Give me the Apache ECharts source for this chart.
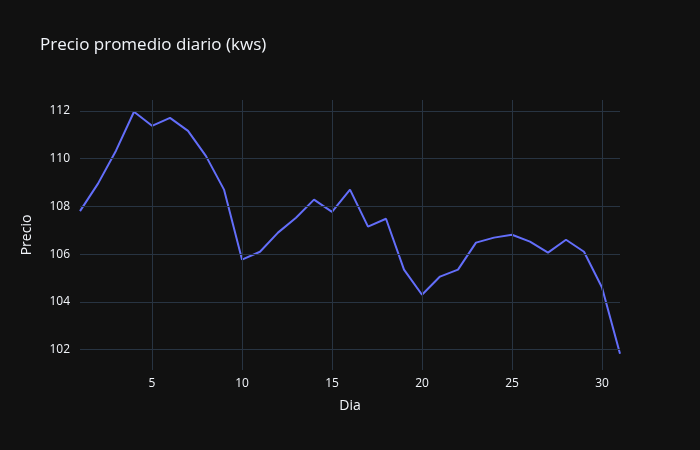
<!DOCTYPE html>
<html>
<head>
<meta charset="utf-8">
<script src="https://cdn.jsdelivr.net/npm/echarts@6/dist/echarts.min.js"></script>
<style>html,body{margin:0;background:#111111}#chart{width:700px;height:450px}</style>
</head>
<body>
<div id="chart"></div>
<script>
const dias = [1,2,3,4,5,6,7,8,9,10,11,12,13,14,15,16,17,18,19,20,21,22,23,24,25,26,27,28,29,30,31]
const precio = [107.8,108.95,110.33,111.96,111.37,111.7,111.16,110.1,108.7,105.77,106.1,106.9,107.52,108.28,107.77,108.7,107.15,107.48,105.35,104.3,105.06,105.35,106.48,106.69,106.81,106.52,106.06,106.6,106.1,104.6,101.83]
const xTicks = [5,10,15,20,25,30]
const yTicks = [102,104,106,108,110,112]

let myChart = echarts.init(document.getElementById('chart'), null, { renderer: 'canvas' })

const gridColor = '#283442'
const textColor = '#f2f5fa'

myChart.setOption({
    backgroundColor: '#111111',
    animation: false,
    title: {
        text: 'Precio promedio diario (kws)',
        left: 35, top: 32,
        textStyle: { color: textColor, fontSize: 17, fontWeight: 'normal', fontFamily: 'Open Sans' }
    },
    grid: { left: 80, right: 80, top: 100, bottom: 80 },
    xAxis: {
        type: 'value', min: 1, max: 31,
        name: 'Dia', nameLocation: 'middle', nameGap: 29,
        nameTextStyle: { color: textColor, fontSize: 14, fontFamily: 'Open Sans' },
        axisLine: { show: false }, axisTick: { show: false }, splitLine: { show: false },
        axisLabel: { customValues: xTicks, color: textColor, fontSize: 12, fontFamily: 'Open Sans' }
    },
    yAxis: {
        type: 'value', min: 101.15, max: 112.45,
        name: 'Precio', nameLocation: 'middle', nameGap: 46, nameRotate: 90,
        nameTextStyle: { color: textColor, fontSize: 14, fontFamily: 'Open Sans' },
        axisLine: { show: false }, axisTick: { show: false }, splitLine: { show: false },
        axisLabel: { customValues: yTicks, color: textColor, fontSize: 12, fontFamily: 'Open Sans', margin: 10 }
    },
    series: [{
        type: 'line',
        data: dias.map((d, i) => [d, precio[i]]),
        showSymbol: false,
        lineStyle: { color: '#636efa', width: 2 },
        itemStyle: { color: '#636efa' },
        z: 3,
        markLine: {
            silent: true, symbol: 'none', label: { show: false }, animation: false,
            lineStyle: { color: gridColor, type: 'solid', width: 1 },
            data: xTicks.map(v => ({ xAxis: v })).concat(yTicks.map(v => ({ yAxis: v })))
        }
    }]
})
</script>
</body>
</html>
